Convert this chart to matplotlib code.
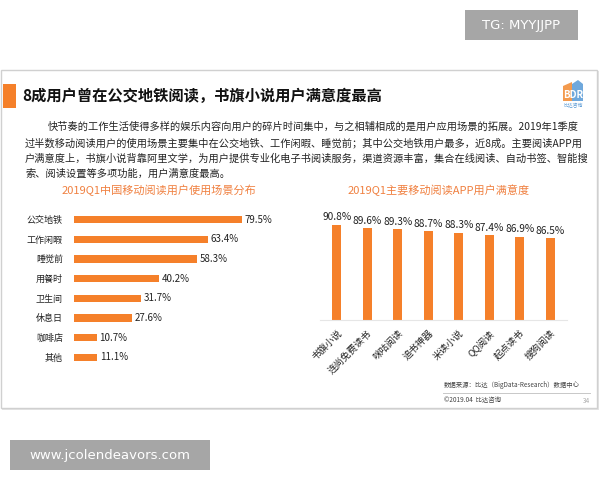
import matplotlib
matplotlib.use("Agg")
import matplotlib.pyplot as plt
from matplotlib.patches import Rectangle, Polygon

plt.rcParams['font.family'] = ['Noto Sans CJK SC', 'DejaVu Sans']

# ---- data ----
scene_labels = ["公交地铁", "工作闲暇", "睡觉前", "用餐时", "卫生间", "休息日", "咖啡店", "其他"]
scene_values = [79.5, 63.4, 58.3, 40.2, 31.7, 27.6, 10.7, 11.1]

app_labels = ["书旗小说", "连尚免费读书", "咪咕阅读", "追书神器", "米读小说", "QQ阅读", "起点读书", "搜狗阅读"]
app_values = [90.8, 89.6, 89.3, 88.7, 88.3, 87.4, 86.9, 86.5]

title = "8成用户曾在公交地铁阅读，书旗小说用户满意度最高"
body_lines = [
    "快节奏的工作生活使得多样的娱乐内容向用户的碎片时间集中，与之相辅相成的是用户应用场景的拓展。2019年1季度",
    "过半数移动阅读用户的使用场景主要集中在公交地铁、工作闲暇、睡觉前；其中公交地铁用户最多，近8成。主要阅读APP用",
    "户满意度上，书旗小说背靠阿里文学，为用户提供专业化电子书阅读服务，渠道资源丰富，集合在线阅读、自动书签、智能搜",
    "索、阅读设置等多项功能，用户满意度最高。",
]
left_title = "2019Q1中国移动阅读用户使用场景分布"
right_title = "2019Q1主要移动阅读APP用户满意度"
source_text = "数据来源：比达（BigData-Research）数据中心"
copyright_text = "©2019.04  比达咨询"
page_no = "34"

ORANGE = "#F5802A"
W, H = 600, 480

fig = plt.figure(figsize=(6, 4.8), dpi=100)
fig.patch.set_facecolor("white")

def fx(px):
    return px / W

def fy(py):
    return 1 - py / H

def prect(x0, y0, x1, y1, z=-5, **kw):
    r = Rectangle((fx(x0), fy(y1)), fx(x1) - fx(x0), fy(y0) - fy(y1),
                  transform=fig.transFigure, zorder=z, **kw)
    fig.add_artist(r)

def ppoly(pts, z=-4, **kw):
    p = Polygon([(fx(a), fy(b)) for a, b in pts], closed=True,
                transform=fig.transFigure, zorder=z, **kw)
    fig.add_artist(p)

# slide frame (with faint shadow)
prect(2, 71, 599, 410, z=-6, facecolor="#E4E4E4", edgecolor="none")
prect(1, 70, 597, 408, facecolor="white", edgecolor="#D0D0D0", linewidth=1.0)
# orange title block
prect(3, 84, 16, 108, facecolor=ORANGE, edgecolor="none")
fig.text(fx(22), fy(96), title, fontsize=11, fontweight="bold", color="#111111",
         ha="left", va="center")

# logo approx
ppoly([(563, 101), (563, 86), (572, 82), (572, 101)], facecolor="#F39A4E", edgecolor="none")
ppoly([(572, 101), (572, 84), (578, 80), (583, 84), (583, 101)], facecolor="#6FA8DC", edgecolor="none")
fig.text(fx(573), fy(95), "BDR", fontsize=7, fontweight="bold", color="white",
         ha="center", va="center")
fig.text(fx(573), fy(106), "比达咨询", fontsize=3.5, color="#5B9BD5",
         ha="center", va="center")

# body text
body_x = [48, 25, 25, 25]
body_y = [127, 143, 159, 174]
for t, x, y in zip(body_lines, body_x, body_y):
    fig.text(fx(x), fy(y), t, fontsize=7.35, color="#222222", ha="left", va="center")

fig.text(fx(159), fy(190), left_title, fontsize=8, color="#F08040", ha="center", va="center")
fig.text(fx(439), fy(190), right_title, fontsize=8, color="#F08040", ha="center", va="center")

# ---- left chart ----
axL = fig.add_axes([fx(74), fy(367), fx(285) - fx(74), fy(210) - fy(367)])
ypos = list(range(len(scene_labels)))
axL.barh(ypos, scene_values, height=0.37, color=ORANGE)
axL.set_xlim(0, 100)
axL.set_ylim(len(scene_labels) - 0.5, -0.5)
axL.set_yticks(ypos)
axL.set_yticklabels(scene_labels, fontsize=6.5, color="#222222")
axL.tick_params(axis="y", length=0, pad=8)
axL.set_xticks([])
for s in axL.spines.values():
    s.set_visible(False)
for y, v in zip(ypos, scene_values):
    axL.text(v + 1.3, y, f"{v:.1f}%", fontsize=7, color="#222222", va="center", ha="left")
axL.patch.set_alpha(0)

# ---- right chart ----
axR = fig.add_axes([fx(320), fy(320), fx(567) - fx(320), fy(205) - fy(320)])
xpos = list(range(len(app_labels)))
axR.bar(xpos, app_values, width=0.3, color=ORANGE)
axR.set_ylim(60, 97.2)
axR.set_xlim(-0.55, len(app_labels) - 0.45)
axR.set_yticks([])
axR.set_xticks(xpos)
axR.set_xticklabels(app_labels, rotation=45, ha="right", rotation_mode="anchor",
                    fontsize=6.8, color="#222222")
axR.tick_params(axis="x", length=0, pad=6)
for k, s in axR.spines.items():
    s.set_visible(False)
axR.spines["bottom"].set_visible(True)
axR.spines["bottom"].set_color("#E6E6E6")
axR.spines["bottom"].set_linewidth(0.8)
for x, v in zip(xpos, app_values):
    axR.text(x, v + 0.8, f"{v:.1f}%", fontsize=7.3, color="#222222", ha="center", va="bottom")
axR.patch.set_alpha(0)

# source & footer
fig.text(fx(444), fy(385), source_text, fontsize=4.6, color="#444444", ha="left", va="center")
fig.add_artist(plt.Line2D([fx(443), fx(590)], [fy(393), fy(393)], transform=fig.transFigure,
                          color="#C8C8C8", linewidth=0.7))
fig.text(fx(444), fy(400), copyright_text, fontsize=4.6, color="#444444", ha="left", va="center")
fig.text(fx(590), fy(401), page_no, fontsize=4.6, color="#AAAAAA", ha="right", va="center")

# watermark boxes
prect(465, 10, 578, 40, z=2, facecolor="#A6A6A6", edgecolor="none")
fig.text(fx(521.5), fy(25), "TG: MYYJJPP", fontsize=9.5, color="white", ha="center", va="center",
         family=["DejaVu Sans"])
prect(10, 440, 210, 470, z=2, facecolor="#A6A6A6", edgecolor="none")
fig.text(fx(110), fy(455), "www.jcolendeavors.com", fontsize=9.5, color="white", ha="center",
         va="center", family=["DejaVu Sans"])

fig.savefig("out.png", dpi=100)
